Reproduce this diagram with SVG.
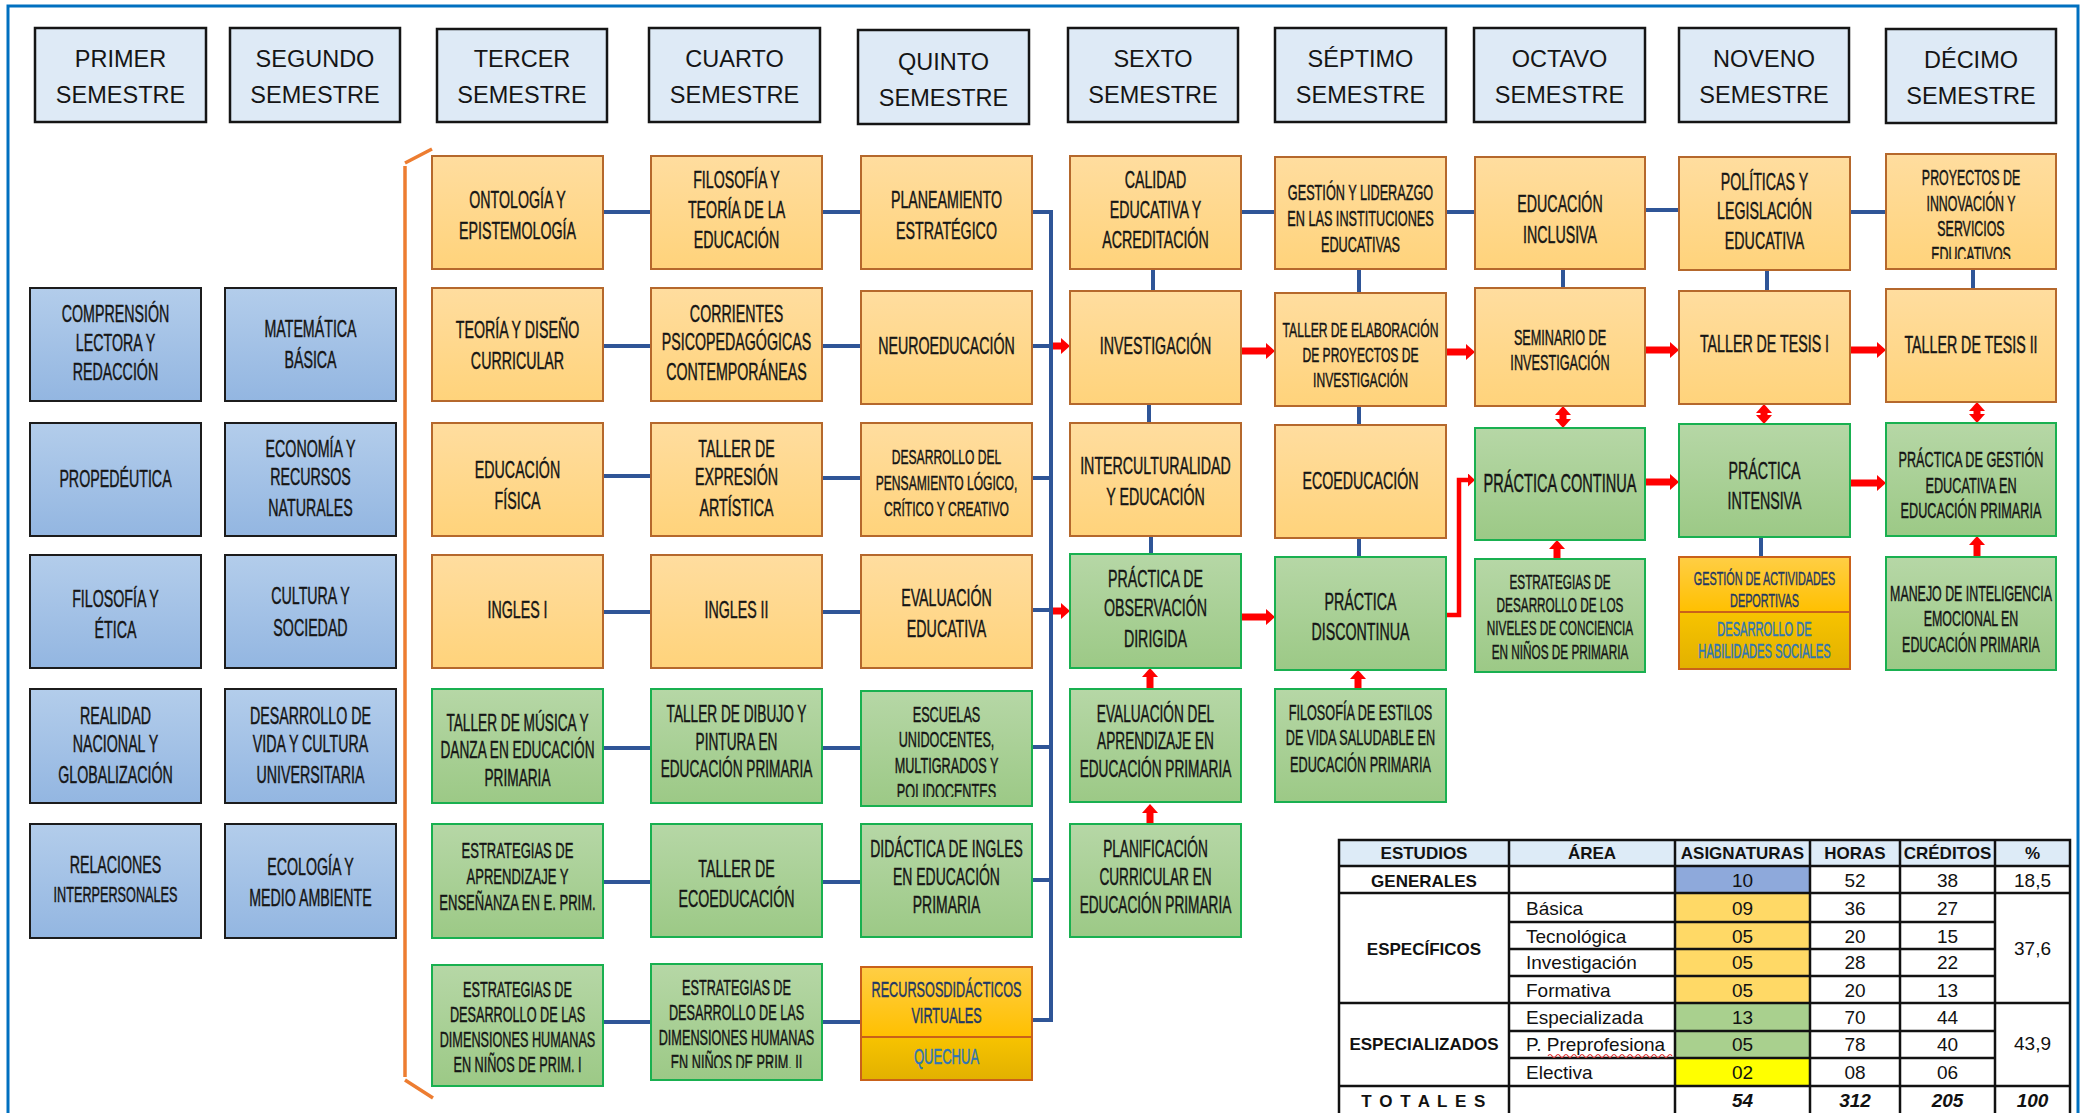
<svg xmlns="http://www.w3.org/2000/svg" width="2080" height="1113" viewBox="0 0 2080 1113">
<defs>
<linearGradient id="gB" x1="0" y1="0" x2="0" y2="1"><stop offset="0" stop-color="#B3CDEB"/><stop offset="1" stop-color="#93B6E1"/></linearGradient>
<linearGradient id="gO" x1="0" y1="0" x2="0" y2="1"><stop offset="0" stop-color="#FFDD9F"/><stop offset="1" stop-color="#FFD37B"/></linearGradient>
<linearGradient id="gG" x1="0" y1="0" x2="0" y2="1"><stop offset="0" stop-color="#B6D7A6"/><stop offset="1" stop-color="#9CC986"/></linearGradient>
<linearGradient id="gY1" x1="0" y1="0" x2="0" y2="1"><stop offset="0" stop-color="#FFCE45"/><stop offset="1" stop-color="#FFC000"/></linearGradient>
<linearGradient id="gY2" x1="0" y1="0" x2="0" y2="1"><stop offset="0" stop-color="#F7C300"/><stop offset="1" stop-color="#E2B100"/></linearGradient>
<marker id="ah" markerUnits="userSpaceOnUse" viewBox="0 0 10 16" markerWidth="10" markerHeight="16" refX="3" refY="8" orient="auto-start-reverse"><path d="M0,0 L9,8 L0,16 z" fill="#FF0000"/></marker>
<marker id="ahs" markerUnits="userSpaceOnUse" viewBox="0 0 8 13" markerWidth="8" markerHeight="13" refX="2" refY="6.5" orient="auto"><path d="M0,0 L7,6.5 L0,13 z" fill="#FF0000"/></marker>
<clipPath id="clipP"><rect x="1886" y="154" width="170" height="105"/></clipPath>
<clipPath id="clipE"><rect x="861" y="691" width="171" height="106"/></clipPath>
<clipPath id="clipS"><rect x="651" y="964" width="171" height="104"/></clipPath>
<style>
.hd{fill:#DEEAF6;stroke:#151515;stroke-width:2.5}
.bl{fill:url(#gB);stroke:#1C1C1C;stroke-width:2}
.or{fill:url(#gO);stroke:#B5682C;stroke-width:2}
.gr{fill:url(#gG);stroke:#19B050;stroke-width:2}
.y1{fill:url(#gY1);stroke:#C9611A;stroke-width:2}
.y2{fill:url(#gY2);stroke:#C9611A;stroke-width:2}
.c{font-family:"Liberation Sans",Arial,sans-serif;font-size:24.8px;fill:#151515;stroke:#151515;stroke-width:0.45;text-anchor:middle}
.h{font-family:"Liberation Sans",Arial,sans-serif;font-size:23.5px;fill:#151515;text-anchor:middle}
.ln{stroke:#2F5597;stroke-width:4;fill:none}
.ar{stroke:#FF0000;stroke-width:7;fill:none;marker-end:url(#ah)}
.ard{stroke:#FF0000;stroke-width:7;fill:none;marker-end:url(#ah);marker-start:url(#ah)}
.tb{font-family:"Liberation Sans",Arial,sans-serif;font-size:19px;fill:#111}
.tbc{font-family:"Liberation Sans",Arial,sans-serif;font-size:19px;fill:#111;text-anchor:middle}
.tbb{font-family:"Liberation Sans",Arial,sans-serif;font-size:17px;font-weight:bold;fill:#111;text-anchor:middle}
.tl{stroke:#111;stroke-width:2.5;fill:none}
</style>
</defs>
<rect x="0" y="0" width="2080" height="1113" fill="#FFFFFF"/>
<rect x="8" y="6" width="2070" height="1130" fill="none" stroke="#0070C0" stroke-width="3"/>
<path d="M432,149 L405,163 M405,166 V1077 M405,1080 L433,1098" stroke="#ED7D31" stroke-width="3.5" fill="none"/>

<g id="headers">
<g id="h1"><rect class="hd" x="35" y="28" width="171" height="94"/><text class="h"><tspan x="120.5" y="67">PRIMER</tspan><tspan x="120.5" y="103">SEMESTRE</tspan></text></g>
<g id="h2"><rect class="hd" x="230" y="28" width="170" height="94"/><text class="h"><tspan x="315" y="67">SEGUNDO</tspan><tspan x="315" y="103">SEMESTRE</tspan></text></g>
<g id="h3"><rect class="hd" x="437" y="29" width="170" height="93"/><text class="h"><tspan x="522" y="67">TERCER</tspan><tspan x="522" y="103">SEMESTRE</tspan></text></g>
<g id="h4"><rect class="hd" x="649" y="28" width="171" height="94"/><text class="h"><tspan x="734.5" y="67">CUARTO</tspan><tspan x="734.5" y="103">SEMESTRE</tspan></text></g>
<g id="h5"><rect class="hd" x="858" y="30" width="171" height="94"/><text class="h"><tspan x="943.5" y="70">QUINTO</tspan><tspan x="943.5" y="106">SEMESTRE</tspan></text></g>
<g id="h6"><rect class="hd" x="1068" y="28" width="170" height="94"/><text class="h"><tspan x="1153" y="67">SEXTO</tspan><tspan x="1153" y="103">SEMESTRE</tspan></text></g>
<g id="h7"><rect class="hd" x="1275" y="28" width="171" height="94"/><text class="h"><tspan x="1360.5" y="67">SÉPTIMO</tspan><tspan x="1360.5" y="103">SEMESTRE</tspan></text></g>
<g id="h8"><rect class="hd" x="1474" y="28" width="171" height="94"/><text class="h"><tspan x="1559.5" y="67">OCTAVO</tspan><tspan x="1559.5" y="103">SEMESTRE</tspan></text></g>
<g id="h9"><rect class="hd" x="1679" y="28" width="170" height="94"/><text class="h"><tspan x="1764" y="67">NOVENO</tspan><tspan x="1764" y="103">SEMESTRE</tspan></text></g>
<g id="h10"><rect class="hd" x="1886" y="29" width="170" height="94"/><text class="h"><tspan x="1971" y="68">DÉCIMO</tspan><tspan x="1971" y="104">SEMESTRE</tspan></text></g>
</g>

<g id="connectors">
<path class="ln" d="M603,212 H651 M822,212 H861 M1241,212 H1275 M1446,212 H1475 M1645,210 H1679 M1850,212 H1886"/>
<path class="ln" d="M1032,212 H1051 V1020 H1032 M1032,346 H1051 M1032,478 H1051 M1032,610 H1051 M1032,747 H1051 M1032,880 H1051"/>
<path class="ln" d="M603,346 H651 M603,476 H651 M603,612 H651 M603,748 H651 M603,882 H651 M603,1022 H651"/>
<path class="ln" d="M822,346 H861 M822,478 H861 M822,612 H861 M822,748 H861 M822,882 H861 M822,1022 H861"/>
<path class="ln" d="M1153,269 V291 M1149,404 V423 M1151,536 V554 M1359,269 V293 M1359,406 V425 M1359,538 V557 M1563,269 V288 M1767,270 V291 M1761,537 V557 M1973,269 V289"/>
<path class="ar" d="M1053,346 H1064"/>
<path class="ar" d="M1053,611 H1064"/>
<path class="ar" d="M1241,351 H1269"/>
<path class="ar" d="M1241,617 H1269"/>
<path class="ar" d="M1446,352 H1469"/>
<path class="ar" d="M1645,350 H1673"/>
<path class="ar" d="M1850,350 H1880"/>
<path class="ar" d="M1645,482 H1673"/>
<path class="ar" d="M1850,483 H1880"/>
<path class="ar" d="M1150,689 V674"/>
<path class="ar" d="M1150,824 V810"/>
<path class="ar" d="M1358,689 V676"/>
<path class="ar" d="M1557,559 V546"/>
<path class="ar" d="M1977,557 V542"/>
<path class="ard" d="M1563,412 V422"/>
<path class="ard" d="M1764,410 V418"/>
<path class="ard" d="M1977,408 V417"/>
<path d="M1446,615 H1459 V480 H1470" stroke="#FF0000" stroke-width="4.5" fill="none" marker-end="url(#ahs)"/>
</g>

<g id="generales">
<g id="n-comprension"><rect class="bl" x="30" y="288" width="171" height="113"/><text class="c" transform="translate(115.5,0) scale(.574,1)"><tspan x="0" y="322">COMPRENSIÓN</tspan><tspan x="0" y="351">LECTORA Y</tspan><tspan x="0" y="380">REDACCIÓN</tspan></text></g>
<g id="n-propedeutica"><rect class="bl" x="30" y="423" width="171" height="113"/><text class="c" transform="translate(115.5,0) scale(.574,1)"><tspan x="0" y="487">PROPEDÉUTICA</tspan></text></g>
<g id="n-filoetica"><rect class="bl" x="30" y="555" width="171" height="113"/><text class="c" transform="translate(115.5,0) scale(.574,1)"><tspan x="0" y="607">FILOSOFÍA Y</tspan><tspan x="0" y="638">ÉTICA</tspan></text></g>
<g id="n-realidad"><rect class="bl" x="30" y="689" width="171" height="114"/><text class="c" transform="translate(115.5,0) scale(.574,1)"><tspan x="0" y="724">REALIDAD</tspan><tspan x="0" y="752">NACIONAL Y</tspan><tspan x="0" y="783">GLOBALIZACIÓN</tspan></text></g>
<g id="n-relaciones"><rect class="bl" x="30" y="824" width="171" height="114"/><text class="c" transform="translate(115.5,0) scale(.574,1)"><tspan x="0" y="873">RELACIONES</tspan><tspan x="0" y="902" style="font-size:22.1px">INTERPERSONALES</tspan></text></g>
<g id="n-matematica"><rect class="bl" x="225" y="288" width="171" height="113"/><text class="c" transform="translate(310.5,0) scale(.574,1)"><tspan x="0" y="337">MATEMÁTICA</tspan><tspan x="0" y="368">BÁSICA</tspan></text></g>
<g id="n-economia"><rect class="bl" x="225" y="423" width="171" height="113"/><text class="c" transform="translate(310.5,0) scale(.574,1)"><tspan x="0" y="457">ECONOMÍA Y</tspan><tspan x="0" y="485">RECURSOS</tspan><tspan x="0" y="516">NATURALES</tspan></text></g>
<g id="n-cultura"><rect class="bl" x="225" y="555" width="171" height="113"/><text class="c" transform="translate(310.5,0) scale(.574,1)"><tspan x="0" y="604">CULTURA Y</tspan><tspan x="0" y="636">SOCIEDAD</tspan></text></g>
<g id="n-desvida"><rect class="bl" x="225" y="689" width="171" height="114"/><text class="c" transform="translate(310.5,0) scale(.574,1)"><tspan x="0" y="724">DESARROLLO DE</tspan><tspan x="0" y="752">VIDA Y CULTURA</tspan><tspan x="0" y="783">UNIVERSITARIA</tspan></text></g>
<g id="n-ecologia"><rect class="bl" x="225" y="824" width="171" height="114"/><text class="c" transform="translate(310.5,0) scale(.574,1)"><tspan x="0" y="875">ECOLOGÍA Y</tspan><tspan x="0" y="906">MEDIO AMBIENTE</tspan></text></g>
</g>

<g id="tercero">
<g id="n-ontologia"><rect class="or" x="432" y="156" width="171" height="113"/><text class="c" transform="translate(517.5,0) scale(.574,1)"><tspan x="0" y="208">ONTOLOGÍA Y</tspan><tspan x="0" y="239">EPISTEMOLOGÍA</tspan></text></g>
<g id="n-teoria"><rect class="or" x="432" y="288" width="171" height="113"/><text class="c" transform="translate(517.5,0) scale(.574,1)"><tspan x="0" y="338">TEORÍA Y DISEÑO</tspan><tspan x="0" y="369">CURRICULAR</tspan></text></g>
<g id="n-edfisica"><rect class="or" x="432" y="423" width="171" height="113"/><text class="c" transform="translate(517.5,0) scale(.574,1)"><tspan x="0" y="478">EDUCACIÓN</tspan><tspan x="0" y="509">FÍSICA</tspan></text></g>
<g id="n-ingles1"><rect class="or" x="432" y="555" width="171" height="113"/><text class="c" transform="translate(517.5,0) scale(.574,1)"><tspan x="0" y="618">INGLES I</tspan></text></g>
<g id="n-musica"><rect class="gr" x="432" y="689" width="171" height="114"/><text class="c" style="font-size:23.8px" transform="translate(517.5,0) scale(.574,1)"><tspan x="0" y="731">TALLER DE MÚSICA Y</tspan><tspan x="0" y="758">DANZA EN EDUCACIÓN</tspan><tspan x="0" y="786">PRIMARIA</tspan></text></g>
<g id="n-estrat-apr"><rect class="gr" x="432" y="824" width="171" height="114"/><text class="c" style="font-size:22.7px" transform="translate(517.5,0) scale(.574,1)"><tspan x="0" y="858">ESTRATEGIAS DE</tspan><tspan x="0" y="884">APRENDIZAJE Y</tspan><tspan x="0" y="910">ENSEÑANZA EN E. PRIM.</tspan></text></g>
<g id="n-estrat-dim1"><rect class="gr" x="432" y="965" width="171" height="121"/><text class="c" style="font-size:22.1px" transform="translate(517.5,0) scale(.574,1)"><tspan x="0" y="997">ESTRATEGIAS DE</tspan><tspan x="0" y="1022">DESARROLLO DE LAS</tspan><tspan x="0" y="1047">DIMENSIONES HUMANAS</tspan><tspan x="0" y="1072">EN NIÑOS DE PRIM. I</tspan></text></g>
</g>

<g id="cuarto">
<g id="n-filoteoria"><rect class="or" x="651" y="156" width="171" height="113"/><text class="c" transform="translate(736.5,0) scale(.574,1)"><tspan x="0" y="188">FILOSOFÍA Y</tspan><tspan x="0" y="218">TEORÍA DE LA</tspan><tspan x="0" y="248">EDUCACIÓN</tspan></text></g>
<g id="n-corrientes"><rect class="or" x="651" y="288" width="171" height="113"/><text class="c" transform="translate(736.5,0) scale(.574,1)"><tspan x="0" y="322">CORRIENTES</tspan><tspan x="0" y="350">PSICOPEDAGÓGICAS</tspan><tspan x="0" y="380">CONTEMPORÁNEAS</tspan></text></g>
<g id="n-expresion"><rect class="or" x="651" y="423" width="171" height="113"/><text class="c" transform="translate(736.5,0) scale(.574,1)"><tspan x="0" y="457">TALLER DE</tspan><tspan x="0" y="485">EXPRESIÓN</tspan><tspan x="0" y="516">ARTÍSTICA</tspan></text></g>
<g id="n-ingles2"><rect class="or" x="651" y="555" width="171" height="113"/><text class="c" transform="translate(736.5,0) scale(.574,1)"><tspan x="0" y="618">INGLES II</tspan></text></g>
<g id="n-dibujo"><rect class="gr" x="651" y="689" width="171" height="114"/><text class="c" style="font-size:23.8px" transform="translate(736.5,0) scale(.574,1)"><tspan x="0" y="722">TALLER DE DIBUJO Y</tspan><tspan x="0" y="750">PINTURA EN</tspan><tspan x="0" y="777">EDUCACIÓN PRIMARIA</tspan></text></g>
<g id="n-ecoedu-taller"><rect class="gr" x="651" y="824" width="171" height="113"/><text class="c" transform="translate(736.5,0) scale(.574,1)"><tspan x="0" y="877">TALLER DE</tspan><tspan x="0" y="907">ECOEDUCACIÓN</tspan></text></g>
<g id="n-estrat-dim2"><rect class="gr" x="651" y="964" width="171" height="116"/><g clip-path="url(#clipS)"><text class="c" style="font-size:22.1px" transform="translate(736.5,0) scale(.574,1)"><tspan x="0" y="995">ESTRATEGIAS DE</tspan><tspan x="0" y="1020">DESARROLLO DE LAS</tspan><tspan x="0" y="1045">DIMENSIONES HUMANAS</tspan><tspan x="0" y="1070">EN NIÑOS DE PRIM. II</tspan></text></g></g>
</g>

<g id="quinto">
<g id="n-planeamiento"><rect class="or" x="861" y="156" width="171" height="113"/><text class="c" transform="translate(946.5,0) scale(.574,1)"><tspan x="0" y="208">PLANEAMIENTO</tspan><tspan x="0" y="239">ESTRATÉGICO</tspan></text></g>
<g id="n-neuro"><rect class="or" x="861" y="291" width="171" height="113"/><text class="c" transform="translate(946.5,0) scale(.574,1)"><tspan x="0" y="354">NEUROEDUCACIÓN</tspan></text></g>
<g id="n-pensamiento"><rect class="or" x="861" y="423" width="171" height="113"/><text class="c" style="font-size:21.1px" transform="translate(946.5,0) scale(.574,1)"><tspan x="0" y="464">DESARROLLO DEL</tspan><tspan x="0" y="490">PENSAMIENTO LÓGICO,</tspan><tspan x="0" y="516">CRÍTICO Y CREATIVO</tspan></text></g>
<g id="n-evaluacion"><rect class="or" x="861" y="555" width="171" height="113"/><text class="c" transform="translate(946.5,0) scale(.574,1)"><tspan x="0" y="606">EVALUACIÓN</tspan><tspan x="0" y="637">EDUCATIVA</tspan></text></g>
<g id="n-escuelas"><rect class="gr" x="861" y="691" width="171" height="115"/><g clip-path="url(#clipE)"><text class="c" style="font-size:22.1px" transform="translate(946.5,0) scale(.574,1)"><tspan x="0" y="722">ESCUELAS</tspan><tspan x="0" y="747">UNIDOCENTES,</tspan><tspan x="0" y="773">MULTIGRADOS Y</tspan><tspan x="0" y="799">POLIDOCENTES</tspan></text></g></g>
<g id="n-didactica"><rect class="gr" x="861" y="824" width="171" height="113"/><text class="c" style="font-size:24.3px" transform="translate(946.5,0) scale(.574,1)"><tspan x="0" y="857">DIDÁCTICA DE INGLES</tspan><tspan x="0" y="885">EN EDUCACIÓN</tspan><tspan x="0" y="913">PRIMARIA</tspan></text></g>
<g id="n-recursos"><rect class="y1" x="861" y="967" width="171" height="70"/><rect class="y2" x="861" y="1037" width="171" height="43"/><text class="c" style="font-size:22.1px;fill:#1F3864;stroke:#1F3864" transform="translate(946.5,0) scale(.574,1)"><tspan x="0" y="997">RECURSOSDIDÁCTICOS</tspan><tspan x="0" y="1023">VIRTUALES</tspan></text><text class="c" style="font-size:22.7px;fill:#2E75B6;stroke:#2E75B6" transform="translate(946.5,0) scale(.574,1)"><tspan x="0" y="1064">QUECHUA</tspan></text></g>
</g>

<g id="sexto">
<g id="n-calidad"><rect class="or" x="1070" y="156" width="171" height="113"/><text class="c" transform="translate(1155.5,0) scale(.574,1)"><tspan x="0" y="188">CALIDAD</tspan><tspan x="0" y="218">EDUCATIVA Y</tspan><tspan x="0" y="248">ACREDITACIÓN</tspan></text></g>
<g id="n-investigacion"><rect class="or" x="1070" y="291" width="171" height="113"/><text class="c" transform="translate(1155.5,0) scale(.574,1)"><tspan x="0" y="354">INVESTIGACIÓN</tspan></text></g>
<g id="n-intercult"><rect class="or" x="1070" y="423" width="171" height="113"/><text class="c" transform="translate(1155.5,0) scale(.574,1)"><tspan x="0" y="474">INTERCULTURALIDAD</tspan><tspan x="0" y="505">Y EDUCACIÓN</tspan></text></g>
<g id="n-observacion"><rect class="gr" x="1070" y="554" width="171" height="114"/><text class="c" transform="translate(1155.5,0) scale(.574,1)"><tspan x="0" y="587">PRÁCTICA DE</tspan><tspan x="0" y="616">OBSERVACIÓN</tspan><tspan x="0" y="647">DIRIGIDA</tspan></text></g>
<g id="n-evalapr"><rect class="gr" x="1070" y="689" width="171" height="113"/><text class="c" style="font-size:23.8px" transform="translate(1155.5,0) scale(.574,1)"><tspan x="0" y="722">EVALUACIÓN DEL</tspan><tspan x="0" y="749">APRENDIZAJE EN</tspan><tspan x="0" y="777">EDUCACIÓN PRIMARIA</tspan></text></g>
<g id="n-planificacion"><rect class="gr" x="1070" y="824" width="171" height="113"/><text class="c" style="font-size:23.8px" transform="translate(1155.5,0) scale(.574,1)"><tspan x="0" y="857">PLANIFICACIÓN</tspan><tspan x="0" y="885">CURRICULAR EN</tspan><tspan x="0" y="913">EDUCACIÓN PRIMARIA</tspan></text></g>
</g>

<g id="septimo">
<g id="n-gestion"><rect class="or" x="1275" y="157" width="171" height="112"/><text class="c" style="font-size:22.1px" transform="translate(1360.5,0) scale(.574,1)"><tspan x="0" y="200">GESTIÓN Y LIDERAZGO</tspan><tspan x="0" y="226">EN LAS INSTITUCIONES</tspan><tspan x="0" y="252">EDUCATIVAS</tspan></text></g>
<g id="n-elaboracion"><rect class="or" x="1275" y="293" width="171" height="113"/><text class="c" style="font-size:21.1px" transform="translate(1360.5,0) scale(.574,1)"><tspan x="0" y="337">TALLER DE ELABORACIÓN</tspan><tspan x="0" y="362">DE PROYECTOS DE</tspan><tspan x="0" y="387">INVESTIGACIÓN</tspan></text></g>
<g id="n-ecoeducacion"><rect class="or" x="1275" y="425" width="171" height="113"/><text class="c" transform="translate(1360.5,0) scale(.574,1)"><tspan x="0" y="489">ECOEDUCACIÓN</tspan></text></g>
<g id="n-discontinua"><rect class="gr" x="1275" y="557" width="171" height="113"/><text class="c" transform="translate(1360.5,0) scale(.574,1)"><tspan x="0" y="610">PRÁCTICA</tspan><tspan x="0" y="640">DISCONTINUA</tspan></text></g>
<g id="n-estilos"><rect class="gr" x="1275" y="689" width="171" height="113"/><text class="c" style="font-size:22.1px" transform="translate(1360.5,0) scale(.574,1)"><tspan x="0" y="720">FILOSOFÍA DE ESTILOS</tspan><tspan x="0" y="745">DE VIDA SALUDABLE EN</tspan><tspan x="0" y="772">EDUCACIÓN PRIMARIA</tspan></text></g>
</g>

<g id="octavo">
<g id="n-inclusiva"><rect class="or" x="1475" y="157" width="170" height="112"/><text class="c" transform="translate(1560,0) scale(.574,1)"><tspan x="0" y="212">EDUCACIÓN</tspan><tspan x="0" y="243">INCLUSIVA</tspan></text></g>
<g id="n-seminario"><rect class="or" x="1475" y="288" width="170" height="118"/><text class="c" style="font-size:22.1px" transform="translate(1560,0) scale(.574,1)"><tspan x="0" y="345">SEMINARIO DE</tspan><tspan x="0" y="370">INVESTIGACIÓN</tspan></text></g>
<g id="n-continua"><rect class="gr" x="1475" y="428" width="170" height="112"/><text class="c" style="font-size:25.4px" transform="translate(1560,0) scale(.574,1)"><tspan x="0" y="492">PRÁCTICA  CONTINUA</tspan></text></g>
<g id="n-niveles"><rect class="gr" x="1475" y="559" width="170" height="113"/><text class="c" style="font-size:20.5px" transform="translate(1560,0) scale(.574,1)"><tspan x="0" y="589">ESTRATEGIAS DE</tspan><tspan x="0" y="612">DESARROLLO DE LOS</tspan><tspan x="0" y="635">NIVELES DE CONCIENCIA</tspan><tspan x="0" y="659">EN NIÑOS DE PRIMARIA</tspan></text></g>
</g>

<g id="noveno">
<g id="n-politicas"><rect class="or" x="1679" y="157" width="171" height="113"/><text class="c" transform="translate(1764.5,0) scale(.574,1)"><tspan x="0" y="190">POLÍTICAS Y</tspan><tspan x="0" y="219">LEGISLACIÓN</tspan><tspan x="0" y="249">EDUCATIVA</tspan></text></g>
<g id="n-tesis1"><rect class="or" x="1679" y="291" width="171" height="113"/><text class="c" transform="translate(1764.5,0) scale(.574,1)"><tspan x="0" y="352">TALLER DE TESIS I</tspan></text></g>
<g id="n-intensiva"><rect class="gr" x="1679" y="424" width="171" height="113"/><text class="c" transform="translate(1764.5,0) scale(.574,1)"><tspan x="0" y="479">PRÁCTICA</tspan><tspan x="0" y="509">INTENSIVA</tspan></text></g>
<g id="n-deportivas"><rect class="y1" x="1679" y="557" width="171" height="55"/><rect class="y2" x="1679" y="612" width="171" height="57"/><text class="c" style="font-size:18.9px;fill:#1F3864;stroke:#1F3864" transform="translate(1764.5,0) scale(.574,1)"><tspan x="0" y="585">GESTIÓN DE ACTIVIDADES</tspan><tspan x="0" y="607">DEPORTIVAS</tspan></text><text class="c" style="font-size:19.4px;fill:#2E75B6;stroke:#2E75B6" transform="translate(1764.5,0) scale(.574,1)"><tspan x="0" y="636">DESARROLLO DE</tspan><tspan x="0" y="658">HABILIDADES SOCIALES</tspan></text></g>
</g>

<g id="decimo">
<g id="n-proyectos"><rect class="or" x="1886" y="154" width="170" height="115"/><g clip-path="url(#clipP)"><text class="c" style="font-size:21.6px" transform="translate(1971,0) scale(.574,1)"><tspan x="0" y="185">PROYECTOS DE</tspan><tspan x="0" y="211">INNOVACIÓN Y</tspan><tspan x="0" y="236">SERVICIOS</tspan><tspan x="0" y="262">EDUCATIVOS</tspan></text></g></g>
<g id="n-tesis2"><rect class="or" x="1886" y="289" width="170" height="113"/><text class="c" transform="translate(1971,0) scale(.574,1)"><tspan x="0" y="353">TALLER DE TESIS II</tspan></text></g>
<g id="n-pgestion"><rect class="gr" x="1886" y="423" width="170" height="113"/><text class="c" style="font-size:22.1px" transform="translate(1971,0) scale(.574,1)"><tspan x="0" y="467">PRÁCTICA DE GESTIÓN</tspan><tspan x="0" y="493">EDUCATIVA EN</tspan><tspan x="0" y="518">EDUCACIÓN PRIMARIA</tspan></text></g>
<g id="n-manejo"><rect class="gr" x="1886" y="557" width="170" height="113"/><text class="c" style="font-size:21.6px" transform="translate(1971,0) scale(.574,1)"><tspan x="0" y="601">MANEJO DE INTELIGENCIA</tspan><tspan x="0" y="626">EMOCIONAL EN</tspan><tspan x="0" y="652">EDUCACIÓN PRIMARIA</tspan></text></g>
</g>

<g id="tabla">
<rect x="1339" y="840" width="731" height="26" fill="#DDEBF7"/>
<rect x="1675" y="866" width="135" height="27" fill="#8EA9DB"/>
<rect x="1675" y="893" width="135" height="110" fill="#FFD966"/>
<rect x="1675" y="1003" width="135" height="55" fill="#A9D08E"/>
<rect x="1675" y="1058" width="135" height="28" fill="#FFFF00"/>
<rect class="tl" x="1339" y="840" width="731" height="276"/>
<path class="tl" d="M1509,840 V1116 M1675,840 V1116 M1810,840 V1116 M1900,840 V1116 M1995,840 V1116 M1339,866 H2070 M1339,893 H2070 M1339,1003 H2070 M1339,1086 H2070 M1509,922 H1995 M1509,949 H1995 M1509,976 H1995 M1509,1031 H1995 M1509,1058 H1995"/>
<text class="tbb" x="1424" y="859">ESTUDIOS</text>
<text class="tbb" x="1592" y="859">ÁREA</text>
<text class="tbb" x="1742.5" y="859">ASIGNATURAS</text>
<text class="tbb" x="1855" y="859">HORAS</text>
<text class="tbb" x="1947.5" y="859">CRÉDITOS</text>
<text class="tbb" x="2032.5" y="859">%</text>
<text class="tbb" x="1424" y="887">GENERALES</text>
<text class="tbb" x="1424" y="955">ESPECÍFICOS</text>
<text class="tbb" x="1424" y="1050">ESPECIALIZADOS</text>
<text class="tbb" x="1424" y="1107" letter-spacing="1.5">T O T A L E S</text>
<text class="tb" x="1526" y="915">Básica</text>
<text class="tb" x="1526" y="943">Tecnológica</text>
<text class="tb" x="1526" y="969">Investigación</text>
<text class="tb" x="1526" y="997">Formativa</text>
<text class="tb" x="1526" y="1024">Especializada</text>
<text class="tb" x="1526" y="1051">P. Preprofesiona</text>
<text class="tb" x="1526" y="1079">Electiva</text>
<path d="M1548,1056 q2,-3 4,0 t4,0 t4,0 t4,0 t4,0 t4,0 t4,0 t4,0 t4,0 t4,0 t4,0 t4,0 t4,0 t4,0 t4,0 t4,0 t4,0 t4,0 t4,0 t4,0 t4,0 t4,0 t4,0 t4,0 t4,0 t4,0 t4,0 t4,0 t4,0 t4,0 t4,0" stroke="#E03030" stroke-width="1.2" fill="none"/>
<g>
<text class="tbc" x="1742.5" y="887">10</text><text class="tbc" x="1855" y="887">52</text><text class="tbc" x="1947.5" y="887">38</text><text class="tbc" x="2032.5" y="887">18,5</text>
<text class="tbc" x="1742.5" y="915">09</text><text class="tbc" x="1855" y="915">36</text><text class="tbc" x="1947.5" y="915">27</text>
<text class="tbc" x="1742.5" y="943">05</text><text class="tbc" x="1855" y="943">20</text><text class="tbc" x="1947.5" y="943">15</text>
<text class="tbc" x="1742.5" y="969">05</text><text class="tbc" x="1855" y="969">28</text><text class="tbc" x="1947.5" y="969">22</text>
<text class="tbc" x="1742.5" y="997">05</text><text class="tbc" x="1855" y="997">20</text><text class="tbc" x="1947.5" y="997">13</text>
<text class="tbc" x="2032.5" y="955">37,6</text>
<text class="tbc" x="1742.5" y="1024">13</text><text class="tbc" x="1855" y="1024">70</text><text class="tbc" x="1947.5" y="1024">44</text>
<text class="tbc" x="1742.5" y="1051">05</text><text class="tbc" x="1855" y="1051">78</text><text class="tbc" x="1947.5" y="1051">40</text>
<text class="tbc" x="1742.5" y="1079">02</text><text class="tbc" x="1855" y="1079">08</text><text class="tbc" x="1947.5" y="1079">06</text>
<text class="tbc" x="2032.5" y="1050">43,9</text>
</g>
<text class="tbc" x="1742.5" y="1107" font-weight="bold" font-style="italic">54</text>
<text class="tbc" x="1855" y="1107" font-weight="bold" font-style="italic">312</text>
<text class="tbc" x="1947.5" y="1107" font-weight="bold" font-style="italic">205</text>
<text class="tbc" x="2032.5" y="1107" font-weight="bold" font-style="italic">100</text>
</g>
</svg>
